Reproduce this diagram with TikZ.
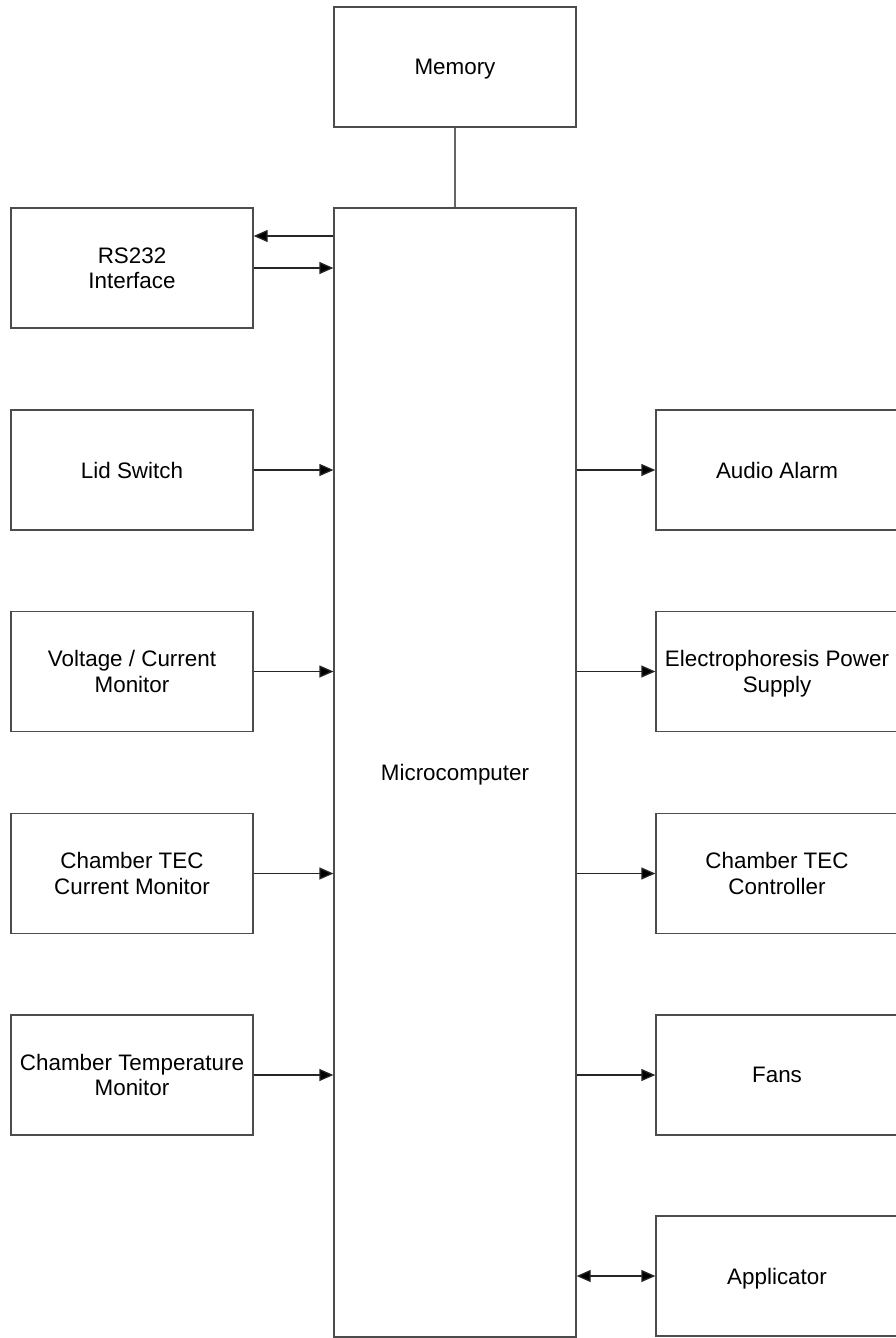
\documentclass[tikz,border=0pt]{standalone}
\usepackage{fontspec}
\setmainfont{Liberation Sans}
\usetikzlibrary{arrows.meta}

\tikzset{
  blk/.style={draw=black!70, line width=1.3pt, minimum width=242pt, minimum height=120pt, inner sep=0pt, text depth=0pt, align=center, font=\fontsize{22.4}{25.5}\selectfont},
  arr/.style={draw=black!85, line width=1.3pt, -{Triangle[length=14pt,width=12pt,fill=black]}},
  lnk/.style={draw=black!60, line width=1.3pt}
}

\begin{document}
\begin{tikzpicture}[x=1pt,y=-1pt]
\useasboundingbox (0,0) rectangle (896,1338);
\clip (0,0) rectangle (896,1338);

%Shape: Memory and Microcomputer
\node [blk] (mem) at (455,67) {Memory};
\node [blk, minimum height=1129pt] (mc) at (455,772.5) {Microcomputer};

%Shape: left column (inputs)
\node [blk] (rs) at (132,268) {RS232\\Interface};
\node [blk] (lid) at (132,470) {Lid Switch};
\node [blk] (vcm) at (132,671.5) {Voltage / Current\\Monitor};
\node [blk] (tecm) at (132,873.5) {Chamber TEC\\Current Monitor};
\node [blk] (tmpm) at (132,1075) {Chamber Temperature\\Monitor};

%Shape: right column (outputs)
\node [blk] (alarm) at (777,470) {Audio Alarm};
\node [blk] (eps) at (777,671.5) {Electrophoresis Power\\Supply};
\node [blk] (tecc) at (777,873.5) {Chamber TEC\\Controller};
\node [blk] (fans) at (777,1075) {Fans};
\node [blk] (app) at (777,1276) {Applicator};

%Straight Lines
\draw [lnk] (mem.south) -- (mem.south |- mc.north);

\coordinate (rsout) at ([yshift=32pt]rs.east);
\draw [arr] (mc.west |- rsout) -- (rsout);
\draw [arr] (rs.east) -- (rs.east -| mc.west);
\draw [arr] (lid.east) -- (lid.east -| mc.west);
\draw [arr] (vcm.east) -- (vcm.east -| mc.west);
\draw [arr] (tecm.east) -- (tecm.east -| mc.west);
\draw [arr] (tmpm.east) -- (tmpm.east -| mc.west);

\draw [arr] (mc.east |- alarm.west) -- (alarm.west);
\draw [arr] (mc.east |- eps.west) -- (eps.west);
\draw [arr] (mc.east |- tecc.west) -- (tecc.west);
\draw [arr] (mc.east |- fans.west) -- (fans.west);
\draw [arr, {Triangle[length=14pt,width=12pt,fill=black]}-{Triangle[length=14pt,width=12pt,fill=black]}] (mc.east |- app.west) -- (app.west);

\end{tikzpicture}
\end{document}
